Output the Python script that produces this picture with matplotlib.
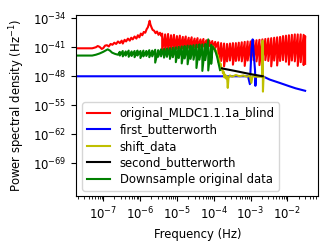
import numpy as np
import matplotlib
matplotlib.use('Agg')
from matplotlib import pyplot as plt
from matplotlib import ticker

plt.rcParams['font.size'] = 8.4

# All values are log10 of frequency (Hz) and log10 of PSD (1/Hz)

# original_MLDC1.1.1a_blind: smooth low-frequency part
red_lf = [-7.8, -7.3, -7.2, -7.15, -7.1, -7.04, -7.0, -6.95, -6.9, -6.85, -6.8, -6.75,
          -6.7, -6.65, -6.6, -6.55, -6.5, -6.47, -6.42, -6.38, -6.33, -6.28, -6.24,
          -6.2, -6.15, -6.1, -6.06, -6.02, -5.98, -5.94, -5.9, -5.86, -5.82, -5.79,
          -5.76, -5.74, -5.72, -5.69, -5.66, -5.62, -5.58, -5.54, -5.5, -5.46, -5.42]
red_lp = [-41.25, -41.25, -41.0, -40.7, -40.9, -41.4, -41.2, -40.6, -40.5, -40.8, -40.2,
          -40.4, -39.9, -40.2, -39.6, -40.0, -39.4, -40.1, -39.2, -39.6, -38.9, -39.4,
          -38.7, -39.1, -38.4, -38.9, -38.1, -38.6, -37.7, -38.1, -37.3, -37.5, -36.6,
          -36.2, -35.3, -34.6, -35.5, -36.2, -36.8, -37.0, -37.6, -37.2, -38.0, -37.5,
          -38.3]
# original data: noisy high-frequency band (upper and lower edge per column)
red_band_lf = [-5.40, -5.32, -5.24, -5.16, -5.08, -5.00, -4.92, -4.84, -4.76, -4.68,
               -4.60, -4.52, -4.44, -4.36, -4.28, -4.20, -4.12, -4.04, -3.96, -3.88,
               -3.80, -3.72, -3.64, -3.56, -3.48, -3.40, -3.32, -3.24, -3.16, -3.08,
               -3.00, -2.92, -2.84, -2.76, -2.68, -2.60, -2.52, -2.44, -2.36, -2.28,
               -2.20, -2.12, -2.04, -1.96, -1.88, -1.80, -1.72, -1.64, -1.56, -1.52]
red_band_top = [-37.7, -37.9, -37.8, -38.1, -38.0, -38.3, -38.2, -38.5, -38.4, -38.7,
                -38.6, -38.9, -38.8, -39.1, -39.0, -39.3, -39.4, -39.5, -39.7, -39.8,
                -40.0, -40.1, -40.2, -40.1, -40.0, -40.0, -39.9, -39.8, -39.7, -39.6,
                -39.6, -39.4, -39.3, -39.2, -39.1, -39.0, -38.9, -38.8, -38.7, -38.6,
                -38.5, -38.3, -38.2, -38.1, -38.0, -37.9, -37.9, -37.9, -38.0, -38.3]
red_band_bot = [-41.8, -41.8, -41.7, -41.6, -41.5, -41.4, -41.3, -41.3, -41.2, -41.1,
                -41.1, -41.0, -41.0, -40.9, -40.8, -40.8, -40.7, -40.9, -41.2, -44.5,
                -44.3, -45.6, -44.4, -44.2, -45.2, -44.3, -44.2, -44.4, -45.5, -44.2,
                -44.3, -44.1, -44.4, -45.3, -44.2, -44.1, -44.3, -45.6, -44.2, -45.4,
                -44.3, -44.1, -44.5, -45.2, -44.2, -44.4, -45.5, -44.6, -45.3, -45.0]

# first_butterworth
blue_lf = [-7.8, -3.07, -3.02, -3.0, -2.975, -2.945, -2.91, -2.88, -2.87, -2.85,
           -2.67, -2.48, -2.21, -1.95, -1.78, -1.52]
blue_lp = [-48.0, -48.0, -49.9, -46.2, -41.4, -39.1, -43.1, -46.6, -50.3, -48.0,
           -48.0, -48.8, -49.6, -50.4, -50.9, -51.5]

# shift_data
yellow_lf = [-4.03, -3.99, -3.96, -3.93, -3.91, -3.89, -3.87, -3.85, -3.83, -3.81,
             -3.79, -3.77, -3.75, -3.73, -3.71, -3.69, -3.66, -3.64, -3.62, -3.60,
             -3.56, -3.50, -3.40, -3.30, -3.20, -3.10, -3.02, -2.98, -2.95, -2.85,
             -2.75, -2.69, -2.675, -2.665, -2.65, -2.64]
yellow_lp = [-40.8, -41.3, -42.0, -41.8, -43.2, -42.9, -44.3, -44.0, -45.4, -45.0,
             -46.4, -46.0, -47.3, -46.9, -48.3, -47.6, -48.6, -48.0, -50.8, -48.4,
             -47.8, -48.1, -47.7, -48.0, -47.8, -48.1, -47.9, -49.6, -48.0, -48.1,
             -48.1, -48.1, -39.4, -51.7, -48.3, -48.2]

# second_butterworth
black_lf = [-3.78, -3.43, -3.02, -2.67]
black_lp = [-46.1, -46.7, -47.45, -48.0]

# Downsample original data: smooth part, noisy band, high-frequency drop
green_lf = [-7.8, -7.3, -7.2, -7.1, -7.0, -6.92, -6.88, -6.82, -6.76, -6.68, -6.6]
green_lp = [-43.0, -43.0, -42.8, -42.5, -42.1, -41.7, -41.5, -41.8, -42.3, -42.6, -42.8]
green_band_lf = [-6.55, -6.47, -6.39, -6.31, -6.23, -6.15, -6.07, -5.99, -5.91, -5.83,
                 -5.75, -5.67, -5.59, -5.51, -5.43, -5.35, -5.27, -5.19, -5.11, -5.03,
                 -4.95, -4.87, -4.79, -4.71, -4.63, -4.55, -4.47, -4.39, -4.31, -4.23,
                 -4.15, -4.07]
green_band_top = [-42.1, -41.9, -42.0, -41.8, -42.0, -41.9, -41.8, -41.9, -41.8, -41.9,
                  -41.7, -41.8, -41.6, -41.7, -41.5, -41.4, -41.3, -41.2, -41.1, -41.0,
                  -40.9, -40.8, -40.7, -40.6, -40.6, -40.5, -40.4, -40.3, -40.3, -40.2,
                  -39.1, -40.4]
green_band_bot = [-43.0, -43.2, -43.0, -43.3, -43.1, -43.4, -43.0, -43.6, -43.2, -43.1,
                  -43.4, -43.2, -44.7, -43.3, -43.2, -43.5, -43.3, -43.8, -43.4, -44.6,
                  -43.6, -44.9, -43.7, -45.1, -43.8, -44.0, -46.0, -44.0, -46.7, -44.1,
                  -46.6, -45.0]
green_tail_lf = [-4.03, -3.97, -3.94, -3.91, -3.89, -3.86, -3.83]
green_tail_lp = [-40.8, -41.6, -42.4, -43.3, -44.1, -45.3, -46.5]

labels = ['original_MLDC1.1.1a_blind', 'first_butterworth', 'shift_data',
          'second_butterworth', 'Downsample original data']


def zigzag(lf, top, bot):
    # Walk each column from the upper edge to the lower edge
    xs, ys = [], []
    for f, t, b in zip(lf, top, bot):
        xs += [f, f]
        ys += [t, b]
    return xs, ys


rb_x, rb_y = zigzag(red_band_lf, red_band_top, red_band_bot)
gb_x, gb_y = zigzag(green_band_lf, green_band_top, green_band_bot)

red_x = 10.0 ** np.array(red_lf + rb_x)
red_y = 10.0 ** np.array(red_lp + rb_y)
green_x = 10.0 ** np.array(green_lf + gb_x + green_tail_lf)
green_y = 10.0 ** np.array(green_lp + gb_y + green_tail_lp)

fig = plt.figure(figsize=(3.32, 2.49), dpi=100)
ax = fig.add_subplot(111)
fig.subplots_adjust(left=0.230, right=0.959, bottom=0.211, top=0.940)

ax.loglog(red_x, red_y, color='r', label=labels[0])
ax.loglog(10.0 ** np.array(blue_lf), 10.0 ** np.array(blue_lp), color='b', label=labels[1])
ax.loglog(10.0 ** np.array(yellow_lf), 10.0 ** np.array(yellow_lp), color='y', label=labels[2])
ax.loglog(10.0 ** np.array(black_lf), 10.0 ** np.array(black_lp), color='k', label=labels[3])
ax.loglog(green_x, green_y, color='g', label=labels[4])

ax.set_xlim(10 ** -7.73, 10 ** -1.16)
ax.set_ylim(10 ** -77.0, 10 ** -33.2)
ax.xaxis.set_major_locator(ticker.LogLocator(base=10, numticks=20))
ax.xaxis.set_minor_locator(ticker.LogLocator(base=10, subs=np.arange(2, 10), numticks=20))
ax.xaxis.set_minor_formatter(ticker.NullFormatter())
ax.yaxis.set_major_locator(ticker.FixedLocator([10.0 ** e for e in (-34, -41, -48, -55, -62, -69)]))
ax.yaxis.set_minor_locator(ticker.NullLocator())

ax.set_xlabel('Frequency (Hz)')
ax.set_ylabel('Power spectral density (Hz$^{-1}$)')
ax.legend(loc='lower left', labelspacing=0.3)

plt.savefig('out.png', dpi=100)
